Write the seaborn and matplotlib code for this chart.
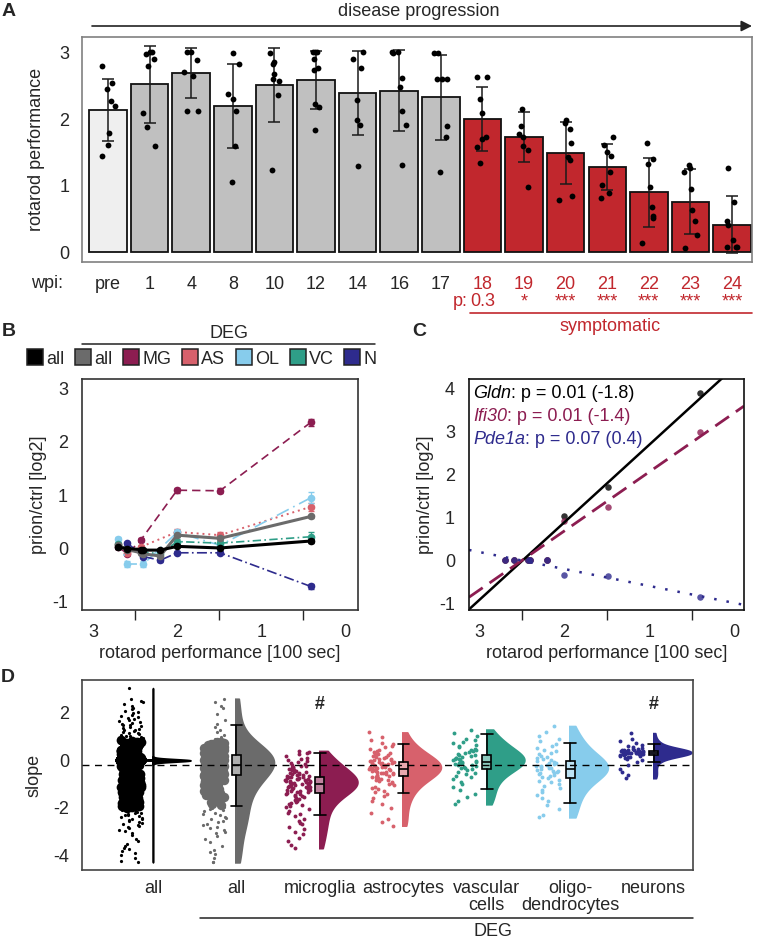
import numpy as np
import matplotlib
matplotlib.use("Agg")
import matplotlib.pyplot as plt
import matplotlib.transforms as mtransforms
from matplotlib.colors import to_rgb
from matplotlib.lines import Line2D
from matplotlib.patches import Rectangle
from matplotlib.offsetbox import TextArea, HPacker, VPacker, AnchoredOffsetbox
import seaborn as sns

# --- A: rotarod performance per week post inoculation ---
wpi = ['pre', '1', '4', '8', '10', '12', '14', '16', '17', '18', '19', '20', '21', '22', '23', '24']
rotarod_mean = [2.14, 2.53, 2.70, 2.20, 2.52, 2.59, 2.40, 2.43, 2.33, 2.00, 1.73, 1.49, 1.28, 0.90, 0.76, 0.41]
rotarod_sd = [0.47, 0.58, 0.38, 0.63, 0.56, 0.44, 0.63, 0.61, 0.64, 0.48, 0.38, 0.47, 0.345, 0.52, 0.49, 0.43]
n_mice = [8, 8, 7, 7, 8, 9, 7, 8, 8, 8, 7, 8, 8, 8, 8, 8]
rotarod_dots = [
    2.80, 2.55, 2.45, 2.28, 2.20, 1.80, 1.62, 1.45,
    2.98, 3.01, 3.01, 2.91, 2.80, 2.09, 1.89, 1.60,
    3.01, 3.01, 2.90, 2.72, 2.65, 2.13, 2.13,
    3.00, 2.83, 2.38, 2.31, 2.13, 1.60, 1.05,
    3.00, 2.87, 2.83, 2.69, 2.61, 2.57, 2.37, 1.23,
    3.01, 3.01, 3.01, 2.91, 2.77, 2.75, 2.23, 2.19, 1.84,
    3.01, 2.91, 2.77, 2.29, 1.99, 1.92, 1.30,
    3.01, 3.01, 3.00, 2.62, 2.49, 2.13, 1.92, 1.31,
    3.00, 3.00, 2.61, 2.61, 2.60, 1.90, 1.74, 1.21,
    2.63, 2.63, 2.31, 2.09, 1.74, 1.71, 1.59, 1.34,
    2.15, 1.90, 1.78, 1.74, 1.60, 1.53, 0.98,
    1.99, 1.95, 1.85, 1.65, 1.43, 1.39, 0.84, 0.79,
    1.73, 1.61, 1.51, 1.44, 1.21, 1.01, 0.89, 0.82,
    1.64, 1.40, 1.33, 0.98, 0.68, 0.54, 0.51, 0.14,
    1.31, 1.26, 1.21, 0.95, 0.63, 0.47, 0.26, 0.06,
    1.27, 0.75, 0.47, 0.41, 0.18, 0.07, 0.07, 0.07,
]
symptomatic_p = ['0.3', '*', '***', '***', '***', '***', '***']  # 18..24 wpi

# --- B / C: expression vs rotarod performance (one x per time point) ---
perf_x = [2.70, 2.59, 2.43, 2.40, 2.20, 2.00, 1.49, 0.41]
b_all = [0.02, 0.00, -0.02, -0.03, -0.03, 0.04, 0.01, 0.14]
b_deg = [0.06, -0.02, -0.08, -0.10, -0.14, 0.25, 0.19, 0.60]
b_mg = [0.03, -0.10, 0.16, np.nan, np.nan, 1.09, 1.08, 2.36]
b_as = [0.08, -0.09, 0.03, np.nan, np.nan, 0.31, 0.25, 0.78]
b_ol = [0.17, -0.29, np.nan, -0.29, np.nan, 0.30, 0.06, 0.95]
b_vc = [0.08, np.nan, -0.06, np.nan, -0.10, 0.13, 0.10, 0.22]
b_n = [np.nan, 0.10, np.nan, -0.15, -0.22, -0.08, -0.08, -0.71]
b_all_err = [0.02, 0.02, 0.02, 0.02, 0.02, 0.02, 0.02, 0.03]
b_deg_err = [0.02, 0.02, 0.02, 0.02, 0.02, 0.03, 0.03, 0.03]
b_mg_err = [0.03, 0.03, 0.03, np.nan, np.nan, 0.05, 0.05, 0.07]
b_as_err = [0.03, 0.03, 0.03, np.nan, np.nan, 0.05, 0.05, 0.08]
b_ol_err = [0.04, 0.05, np.nan, 0.05, np.nan, 0.05, 0.05, 0.10]
b_vc_err = [0.03, np.nan, 0.03, np.nan, 0.03, 0.04, 0.04, 0.08]
b_n_err = [np.nan, 0.03, np.nan, 0.03, 0.03, 0.03, 0.03, 0.04]

gldn = [0.0, 0.0, 0.0, 0.0, 0.0, 1.03, 1.71, 3.89]
ifi30 = [0.0, 0.0, 0.0, 0.0, 0.0, 0.90, 1.24, 2.98]
pde1a = [0.0, 0.0, 0.0, 0.0, 0.0, -0.35, -0.37, -0.85]
gene_names = ['Gldn', 'Ifi30', 'Pde1a']
gene_stats = [': p = 0.01 (-1.8)', ': p = 0.01 (-1.4)', ': p = 0.07 (0.4)']

# --- D: slopes per gene ---
all_zero_genes = 6000
all_core = [
    0.84, 0.81, 0.79, 0.77, 0.74, 0.73, 0.70, 0.68, 0.66, 0.63, 0.61, 0.60, 0.57, 0.55, 0.52, 0.50,
    0.49, 0.46, 0.44, 0.41, 0.39, 0.38, 0.35, 0.33, 0.30, 0.28, 0.27, 0.24, 0.22, 0.19, 0.17, 0.16,
    0.13, 0.11, 0.08, 0.06, 0.05, 0.02, -0.01, -0.03, -0.04, -0.07, -0.09, -0.12, -0.14, -0.15,
    -0.18, -0.20, -0.23, -0.25, -0.26, -0.29, -0.31, -0.34, -0.36, -0.37, -0.40, -0.42, -0.45,
    -0.47, -0.48, -0.51, -0.53, -0.56, -0.58, -0.59, -0.62, -0.64, -0.67, -0.69, -0.70, -0.73,
    -0.75, -0.78, -0.80, -0.81, -0.84, -0.86, -0.89, -0.91, -0.92, -0.95, -0.97, -1.00, -1.02,
    -1.03, -1.06, -1.08, -1.11, -1.13, -1.14, -1.17, -1.19, -1.22, -1.24, -1.25, -1.28, -1.30,
    -1.33, -1.35, -1.36, -1.39, -1.41, -1.44, -1.46, -1.47, -1.50, -1.52, -1.55, -1.57, -1.58,
    -1.61, -1.63, -1.66, -1.68, -1.69, -1.72, -1.74, -1.77, -1.79, -1.80, -1.83, -1.85, -1.88,
    -1.90, -1.91, -1.94, -1.96, -1.99,
]
all_tail = [
    3.05, 2.58, 2.52, 2.45, 2.38, 2.30, 2.22, 2.15, 2.10, 2.04, 1.98, 1.92, 1.88, 1.83, 1.78,
    1.74, 1.70, 1.66, 1.62, 1.58, 1.55, 1.51, 1.48, 1.44, 1.41, 1.37, 1.34, 1.30, 1.27, 1.24,
    1.20, 1.17, 1.14, 1.11, 1.08, 1.05, 1.02, 0.99, 0.96, 0.93, 0.90, 0.87,
    -2.02, -2.05, -2.08, -2.11, -2.14, -2.17, -2.20, -2.23, -2.26, -2.29, -2.32, -2.35, -2.38,
    -2.42, -2.45, -2.49, -2.52, -2.56, -2.60, -2.64, -2.68, -2.72, -2.77, -2.82, -2.87, -2.92,
    -2.98, -3.05, -3.15, -3.30, -3.40, -3.52, -3.60, -3.68, -3.75, -3.82, -3.90, -4.00, -4.10,
    -4.22, -4.30,
]
deg_core = [
    0.79, 0.76, 0.74, 0.71, 0.68, 0.66, 0.63, 0.60, 0.58, 0.55, 0.53, 0.50, 0.48, 0.46, 0.44,
    0.42, 0.40, 0.38, 0.36, 0.34, 0.32, 0.30, 0.29, 0.27, 0.25, 0.24, 0.22, 0.21, 0.19, 0.18,
    0.16, 0.15, 0.13, 0.12, 0.11, 0.09, 0.08, 0.07, 0.05, 0.04, 0.03, 0.01, 0.00, -0.01, -0.03,
    -0.04, -0.05, -0.07, -0.08, -0.10, -0.11, -0.12, -0.14, -0.15, -0.17, -0.18, -0.20, -0.21,
    -0.23, -0.24, -0.26, -0.27, -0.29, -0.30, -0.32, -0.34, -0.35, -0.37, -0.39, -0.41, -0.42,
    -0.44, -0.46, -0.48, -0.50, -0.52, -0.54, -0.56, -0.58, -0.60, -0.62, -0.65, -0.67, -0.69,
    -0.72, -0.74, -0.77, -0.79, -0.82, -0.85, -0.87, -0.90, -0.93, -0.96, -0.99, -1.02, -1.05,
    -1.08, -1.12, -1.15, -1.19, -1.22, -1.26, -1.30, -1.34, -1.38, -1.42, -1.47, -1.51, -1.56,
    -1.61, -1.66, -1.71, -1.77, -1.83, -1.89,
]
deg_tail = [
    2.60, 2.45, 2.28, 2.20, 1.95, 1.72, 1.55, 1.42, 1.30, 1.20, 1.08, 0.98, 0.92, 0.87,
    -1.95, -2.00, -2.04, -2.10, -2.15, -2.20, -2.26, -2.30, -2.37, -2.42, -2.48, -2.55, -2.60,
    -2.66, -2.72, -2.80, -2.87, -2.93, -3.00, -3.08, -3.20, -3.30, -3.45, -3.62, -3.78, -3.85,
    -3.95, -4.10, -4.28, -4.30,
]
mg_slope = [
    0.40, 0.37, 0.30, 0.25, 0.20, 0.12, 0.08, 0.02, -0.03, -0.08, -0.12, -0.15, -0.20, -0.22,
    -0.25, -0.28, -0.30, -0.33, -0.36, -0.38, -0.40, -0.42, -0.45, -0.47, -0.50, -0.52, -0.54,
    -0.56, -0.58, -0.60, -0.62, -0.64, -0.66, -0.68, -0.70, -0.72, -0.74, -0.75, -0.77, -0.79,
    -0.80, -0.82, -0.84, -0.85, -0.87, -0.88, -0.90, -0.91, -0.93, -0.94, -0.96, -0.97, -0.99,
    -1.00, -1.01, -1.03, -1.04, -1.06, -1.07, -1.09, -1.10, -1.12, -1.13, -1.15, -1.17, -1.18,
    -1.20, -1.22, -1.24, -1.26, -1.28, -1.30, -1.32, -1.34, -1.37, -1.40, -1.43, -1.46, -1.49,
    -1.52, -1.55, -1.58, -1.62, -1.66, -1.70, -1.74, -1.78, -1.83, -1.88, -1.93, -1.98, -2.05,
    -2.12, -2.20, -2.28, -2.36, -2.45, -2.55, -2.62, -2.70, -2.80, -2.90, -3.00, -3.10, -3.25,
    -3.40, -3.55, -3.70,
]
as_slope = [
    1.18, 1.00, 0.85, 0.75, 0.68, 0.60, 0.55, 0.50, 0.45, 0.40, 0.36, 0.32, 0.28, 0.25, 0.22,
    0.19, 0.16, 0.13, 0.10, 0.08, 0.05, 0.03, 0.01, -0.01, -0.03, -0.05, -0.07, -0.09, -0.11,
    -0.13, -0.15, -0.17, -0.19, -0.20, -0.22, -0.24, -0.26, -0.27, -0.29, -0.31, -0.33, -0.34,
    -0.36, -0.38, -0.40, -0.41, -0.43, -0.45, -0.47, -0.49, -0.51, -0.53, -0.55, -0.57, -0.59,
    -0.62, -0.64, -0.67, -0.70, -0.72, -0.75, -0.78, -0.81, -0.84, -0.88, -0.92, -0.96, -1.00,
    -1.05, -1.10, -1.15, -1.20, -1.27, -1.34, -1.42, -1.50, -1.60, -1.72, -1.85, -2.00, -2.20,
    -2.45, -2.60, -2.75,
]
vc_slope = [
    1.30, 1.15, 1.02, 0.92, 0.85, 0.78, 0.72, 0.66, 0.60, 0.55, 0.50, 0.46, 0.42, 0.38, 0.34,
    0.30, 0.27, 0.24, 0.21, 0.18, 0.15, 0.12, 0.10, 0.07, 0.05, 0.02, 0.00, -0.02, -0.05, -0.07,
    -0.10, -0.12, -0.15, -0.18, -0.21, -0.24, -0.27, -0.30, -0.34, -0.38, -0.42, -0.47, -0.52,
    -0.58, -0.65, -0.72, -0.80, -0.90, -1.00, -1.12, -1.25, -1.40, -1.55, -1.70, -1.85,
]
ol_slope = [
    1.45, 1.20, 1.05, 0.92, 0.80, 0.70, 0.60, 0.52, 0.45, 0.38, 0.32, 0.26, 0.20, 0.15, 0.10,
    0.06, 0.02, -0.02, -0.06, -0.10, -0.13, -0.16, -0.19, -0.22, -0.25, -0.28, -0.31, -0.34,
    -0.37, -0.40, -0.43, -0.46, -0.49, -0.52, -0.55, -0.59, -0.63, -0.67, -0.71, -0.76, -0.81,
    -0.87, -0.93, -1.00, -1.08, -1.16, -1.25, -1.35, -1.46, -1.58, -1.72, -1.88, -2.05, -2.30,
    -2.40,
]
n_slope = [
    1.15, 0.90, 0.80, 0.72, 0.66, 0.60, 0.56, 0.53, 0.50, 0.48, 0.46, 0.44, 0.43, 0.42, 0.41,
    0.40, 0.39, 0.38, 0.37, 0.37, 0.36, 0.35, 0.35, 0.34, 0.34, 0.33, 0.33, 0.32, 0.32, 0.31,
    0.31, 0.30, 0.30, 0.29, 0.28, 0.27, 0.26, 0.25, 0.24, 0.22, 0.20, 0.18, 0.16, 0.13, 0.10,
    0.05, 0.00, -0.08, -0.20, -0.35, -0.50, -0.62, -0.75,
]
d_groups = ['all', 'all', 'microglia', 'astrocytes', 'vascular\ncells', 'oligo-\ndendrocytes', 'neurons']
box_med = [0.00, -0.19, -1.00, -0.36, -0.05, -0.38, 0.33]
box_q1 = [-0.01, -0.61, -1.39, -0.65, -0.36, -0.73, 0.23]
box_q3 = [0.01, 0.23, -0.69, -0.05, 0.23, -0.03, 0.41]
whisk_lo = [-0.02, -1.91, -2.29, -1.39, -1.22, -1.78, -0.05]
whisk_hi = [0.02, 1.48, 0.30, 0.68, 1.10, 0.75, 0.69]
hash_groups = [2, 6]

# --- style ---
red = '#c1272d'
col_deg = '#6b6b6b'
col_mg = '#8c1d51'
col_as = '#d7616c'
col_ol = '#87ccec'
col_vc = '#2f9e88'
col_n = '#2e2b8d'

sns.set_theme(style='white')
plt.rcParams['font.family'] = ['Liberation Sans', 'DejaVu Sans']
plt.rcParams['font.size'] = 13
plt.rcParams['axes.unicode_minus'] = False
np.random.seed(7)

W, H = 757, 944


def rect(x0, y0, x1, y1):
    return [x0 / W, 1 - y1 / H, (x1 - x0) / W, (y1 - y0) / H]


def fxy(x, y):
    return x / W, 1 - y / H


def lighten(c, f=0.5):
    r, g, b = to_rgb(c)
    return (r + (1 - r) * f, g + (1 - g) * f, b + (1 - b) * f)


def frame(ax, color, lw=1.2):
    for s in ax.spines.values():
        s.set_visible(True)
        s.set_color(color)
        s.set_linewidth(lw)
    ax.tick_params(color=color, width=1.1, labelsize=13)


fig = plt.figure(figsize=(W / 100, H / 100), dpi=100)

# ================= A =================
axA = fig.add_axes(rect(82, 37, 752, 262))
bar_colors = ['#efefef'] + ['#c0c0c0'] * 8 + [red] * 7
sns.barplot(x=wpi, y=rotarod_mean, hue=wpi, order=wpi, hue_order=wpi, palette=bar_colors,
            legend=False, saturation=1, width=0.9, edgecolor='#111111', linewidth=1.3,
            errorbar=None, ax=axA)
axA.errorbar(np.arange(len(wpi)), rotarod_mean, yerr=rotarod_sd, fmt='none', ecolor='#1a1a1a',
             elinewidth=1.1, capsize=4.5, capthick=1.1, zorder=3)
sns.stripplot(x=np.repeat(wpi, n_mice), y=rotarod_dots, order=wpi, color='black', size=4.2,
              jitter=0.17, ax=axA, zorder=4)
axA.set_xlim(-0.625, 15.48)
axA.set_ylim(-0.15, 3.24)
axA.set_yticks([0, 1, 2, 3])
axA.set_xticks(range(len(wpi)))
axA.set_xticklabels(wpi)
frame(axA, '#808080')
axA.tick_params(axis='x', length=4, pad=6)
axA.tick_params(axis='y', length=6, pad=3)
for i, lab in enumerate(axA.get_xticklabels()):
    if i >= 9:
        lab.set_color(red)
axA.set_xlabel('')
axA.set_ylabel('rotarod performance', fontsize=13)
axA.yaxis.set_label_coords(-0.055, 0.5)

fig.text(*fxy(47, 283), 'wpi:', ha='center', va='center', fontsize=13)
trans = mtransforms.blended_transform_factory(axA.transData, fig.transFigure)
for k, p in enumerate(symptomatic_p):
    axA.text(9 + k, 1 - 302 / H, p, transform=trans, ha='center', va='center', color=red, fontsize=13)
fig.text(*fxy(460, 302), 'p:', ha='center', va='center', color=red, fontsize=13)
fig.add_artist(Line2D([470 / W, 752 / W], [1 - 313 / H, 1 - 313 / H], color=red, lw=1.2,
                      transform=fig.transFigure))
fig.text(*fxy(610, 326), 'symptomatic', ha='center', va='center', color=red, fontsize=13)
axA.annotate('', xy=fxy(752, 26), xytext=fxy(92, 26), xycoords='figure fraction',
             textcoords='figure fraction', annotation_clip=False,
             arrowprops=dict(arrowstyle='-|>', color='#222222', lw=1.2, mutation_scale=16,
                             shrinkA=0, shrinkB=0))
fig.text(*fxy(419, 12), 'disease progression', ha='center', va='center', fontsize=13)

# ================= B =================
axB = fig.add_axes(rect(82, 379, 358, 610))
b_series = [
    (b_mg, b_mg_err, col_mg, (0, (5, 3)), 1.2),
    (b_as, b_as_err, col_as, (0, (1, 2)), 1.4),
    (b_ol, b_ol_err, col_ol, (0, (8, 3, 1, 3)), 1.2),
    (b_vc, b_vc_err, col_vc, (0, (5, 2, 1, 2)), 1.2),
    (b_n, b_n_err, col_n, (0, (6, 2, 1, 2)), 1.2),
    (b_deg, b_deg_err, col_deg, '-', 2.2),
    (b_all, b_all_err, 'black', '-', 2.2),
]
for vals, err, c, ls, lw in b_series:
    axB.errorbar(perf_x, vals, yerr=err, fmt='none', ecolor=c, elinewidth=0.9, capsize=2.5)
    sns.lineplot(x=perf_x, y=vals, color=c, linestyle=ls, linewidth=lw, marker='o',
                 markersize=5.5, markeredgewidth=0, errorbar=None, ax=axB)
axB.set_xlim(3.13, -0.15)
axB.set_ylim(-1.15, 3.17)
axB.set_xticks([3, 2, 1, 0])
axB.set_xticks([2.5, 1.5, 0.5], minor=True)
axB.set_yticks([-1, 0, 1, 2, 3])
frame(axB, '#333333')
axB.tick_params(axis='both', which='both', direction='out', length=7, pad=3)
axB.tick_params(axis='x', which='minor', bottom=True)
axB.set_xlabel('rotarod performance [100 sec]', fontsize=13)
axB.set_ylabel('prion/ctrl [log2]', fontsize=13)
axB.yaxis.set_label_coords(-0.127, 0.5)
axB.xaxis.set_label_coords(0.5, -0.152)

leg_colors = ['black', col_deg, col_mg, col_as, col_ol, col_vc, col_n]
leg_labels = ['all', 'all', 'MG', 'AS', 'OL', 'VC', 'N']
handles = [Line2D([0], [0], marker='s', ls='none', markersize=11, markerfacecolor=c,
                  markeredgecolor='#222222', markeredgewidth=1.1) for c in leg_colors]
fig.legend(handles, leg_labels, ncol=7, loc='center left', bbox_to_anchor=fxy(29, 359),
           frameon=False, handlelength=0.7, handletextpad=0.25, columnspacing=0.7,
           fontsize=13, borderpad=0, borderaxespad=0)
fig.add_artist(Line2D([82 / W, 375 / W], [1 - 344 / H, 1 - 344 / H], color='#222222', lw=1.1,
                      transform=fig.transFigure))
fig.text(*fxy(229, 334), 'DEG', ha='center', va='center', fontsize=13)

# ================= C =================
axC = fig.add_axes(rect(469, 379, 744, 610))
axC.set_xlim(3.12, -0.11)
axC.set_ylim(-1.16, 4.21)
gene_colors = ['black', col_mg, col_n]
gene_lines = [('-', 1.8), ((0, (6, 3)), 2.0), ((0, (1, 4)), 1.8)]
for vals, c, (ls, lw) in zip([gldn, ifi30, pde1a], gene_colors, gene_lines):
    sns.regplot(x=perf_x, y=vals, ci=None, truncate=False, color=c,
                scatter_kws=dict(s=22, linewidths=0),
                line_kws=dict(linestyle=ls, linewidth=lw), ax=axC)
axC.set_xlim(3.12, -0.11)
axC.set_ylim(-1.16, 4.21)
axC.set_xticks([3, 2, 1, 0])
axC.set_xticks([2.5, 1.5, 0.5], minor=True)
axC.set_yticks([-1, 0, 1, 2, 3, 4])
frame(axC, '#111111')
axC.tick_params(axis='both', which='both', direction='out', length=7, pad=3)
axC.tick_params(axis='x', which='minor', bottom=True)
axC.set_xlabel('rotarod performance [100 sec]', fontsize=13)
axC.set_ylabel('prion/ctrl [log2]', fontsize=13)
axC.yaxis.set_label_coords(-0.127, 0.5)
axC.xaxis.set_label_coords(0.5, -0.152)
rows = [HPacker(children=[TextArea(g, textprops=dict(style='italic', color=c, fontsize=13)),
                          TextArea(s, textprops=dict(color=c, fontsize=13))],
                align='baseline', pad=0, sep=0)
        for g, s, c in zip(gene_names, gene_stats, gene_colors)]
gene_box = AnchoredOffsetbox(loc='upper left', child=VPacker(children=rows, align='left', pad=0, sep=4.5),
                             pad=0, borderpad=0, frameon=False, bbox_to_anchor=(0.015, 0.975),
                             bbox_transform=axC.transAxes)
axC.add_artist(gene_box)

# ================= D =================
axD = fig.add_axes(rect(82, 680, 693, 870))
d_colors = ['black', col_deg, col_mg, col_as, col_vc, col_ol, col_n]
all_values = all_core + all_tail + [0.0] * all_zero_genes
deg_values = deg_core + deg_tail
d_values = [all_values, deg_values, mg_slope, as_slope, vc_slope, ol_slope, n_slope]

for i, (vals, c) in enumerate(zip(d_values, d_colors)):
    n0 = len(axD.collections)
    sns.violinplot(x=np.full(len(vals), float(i)), y=vals, orient='x', native_scale=True,
                   color=c, saturation=1, inner=None, cut=0, width=0.9, gridsize=800,
                   linecolor=c, linewidth=1.2, ax=axD)
    for coll in axD.collections[n0:]:
        coll.set_clip_path(Rectangle((i - 0.012, -10), 1, 20, transform=axD.transData))

# dense cores drawn with larger dots so they read as solid blocks
strip_sets = [(all_core + [0.0] * all_zero_genes, 0, 7.0, 0.125), (all_tail, 0, 2.3, 0.15),
              (deg_core, 1, 6.8, 0.125), (deg_tail, 1, 2.3, 0.15),
              (mg_slope, 2, 2.8, 0.15), (as_slope, 3, 2.8, 0.15), (vc_slope, 4, 2.8, 0.15),
              (ol_slope, 5, 2.8, 0.15), (n_slope, 6, 2.8, 0.15)]
for vals, i, sz, jit in strip_sets:
    sns.stripplot(x=np.full(len(vals), i - 0.265), y=vals, orient='x', native_scale=True,
                  jitter=jit, color=d_colors[i], size=sz, linewidth=0, ax=axD)

stats = [dict(med=m, q1=a, q3=b, whislo=lo, whishi=hi)
         for m, a, b, lo, hi in zip(box_med, box_q1, box_q3, whisk_lo, whisk_hi)]
bp = axD.bxp(stats, positions=range(len(stats)), widths=0.11, capwidths=0.14, showfliers=False,
             patch_artist=True, manage_ticks=False, zorder=5,
             boxprops=dict(edgecolor='black', linewidth=1.2),
             medianprops=dict(color='black', linewidth=1.2),
             whiskerprops=dict(color='black', linewidth=1.2),
             capprops=dict(color='black', linewidth=1.2))
for patch, c in zip(bp['boxes'], d_colors):
    patch.set_facecolor(lighten(c, 0.45))
axD.axhline(box_med[1], color='black', lw=1.0, ls=(0, (5, 4)), zorder=6)
for g in hash_groups:
    axD.text(g, 2.34, '#', ha='center', va='center', fontsize=13, fontweight='bold')

axD.set_xlim(-0.85, 6.47)
axD.set_ylim(-4.62, 3.39)
axD.set_yticks([-4, -2, 0, 2])
axD.set_xticks(range(len(d_groups)))
axD.set_xticklabels(d_groups, linespacing=1.0)
frame(axD, '#444444')
axD.tick_params(axis='x', length=0, pad=7)
axD.tick_params(axis='y', length=6, pad=3)
axD.set_xlabel('')
axD.set_ylabel('slope', fontsize=13)
axD.yaxis.set_label_coords(-0.064, 0.5)
fig.add_artist(Line2D([200 / W, 693 / W], [1 - 918 / H, 1 - 918 / H], color='#222222', lw=1.1,
                      transform=fig.transFigure))
fig.text(*fxy(493, 932), 'DEG', ha='center', va='center', fontsize=13)

# panel letters
for letter, (x, y) in zip('ABCD', [(9, 12), (9, 332), (419, 331), (8, 677)]):
    fig.text(*fxy(x, y), letter, ha='center', va='center', fontsize=14, fontweight='bold')

fig.savefig('out.png', dpi=100)
